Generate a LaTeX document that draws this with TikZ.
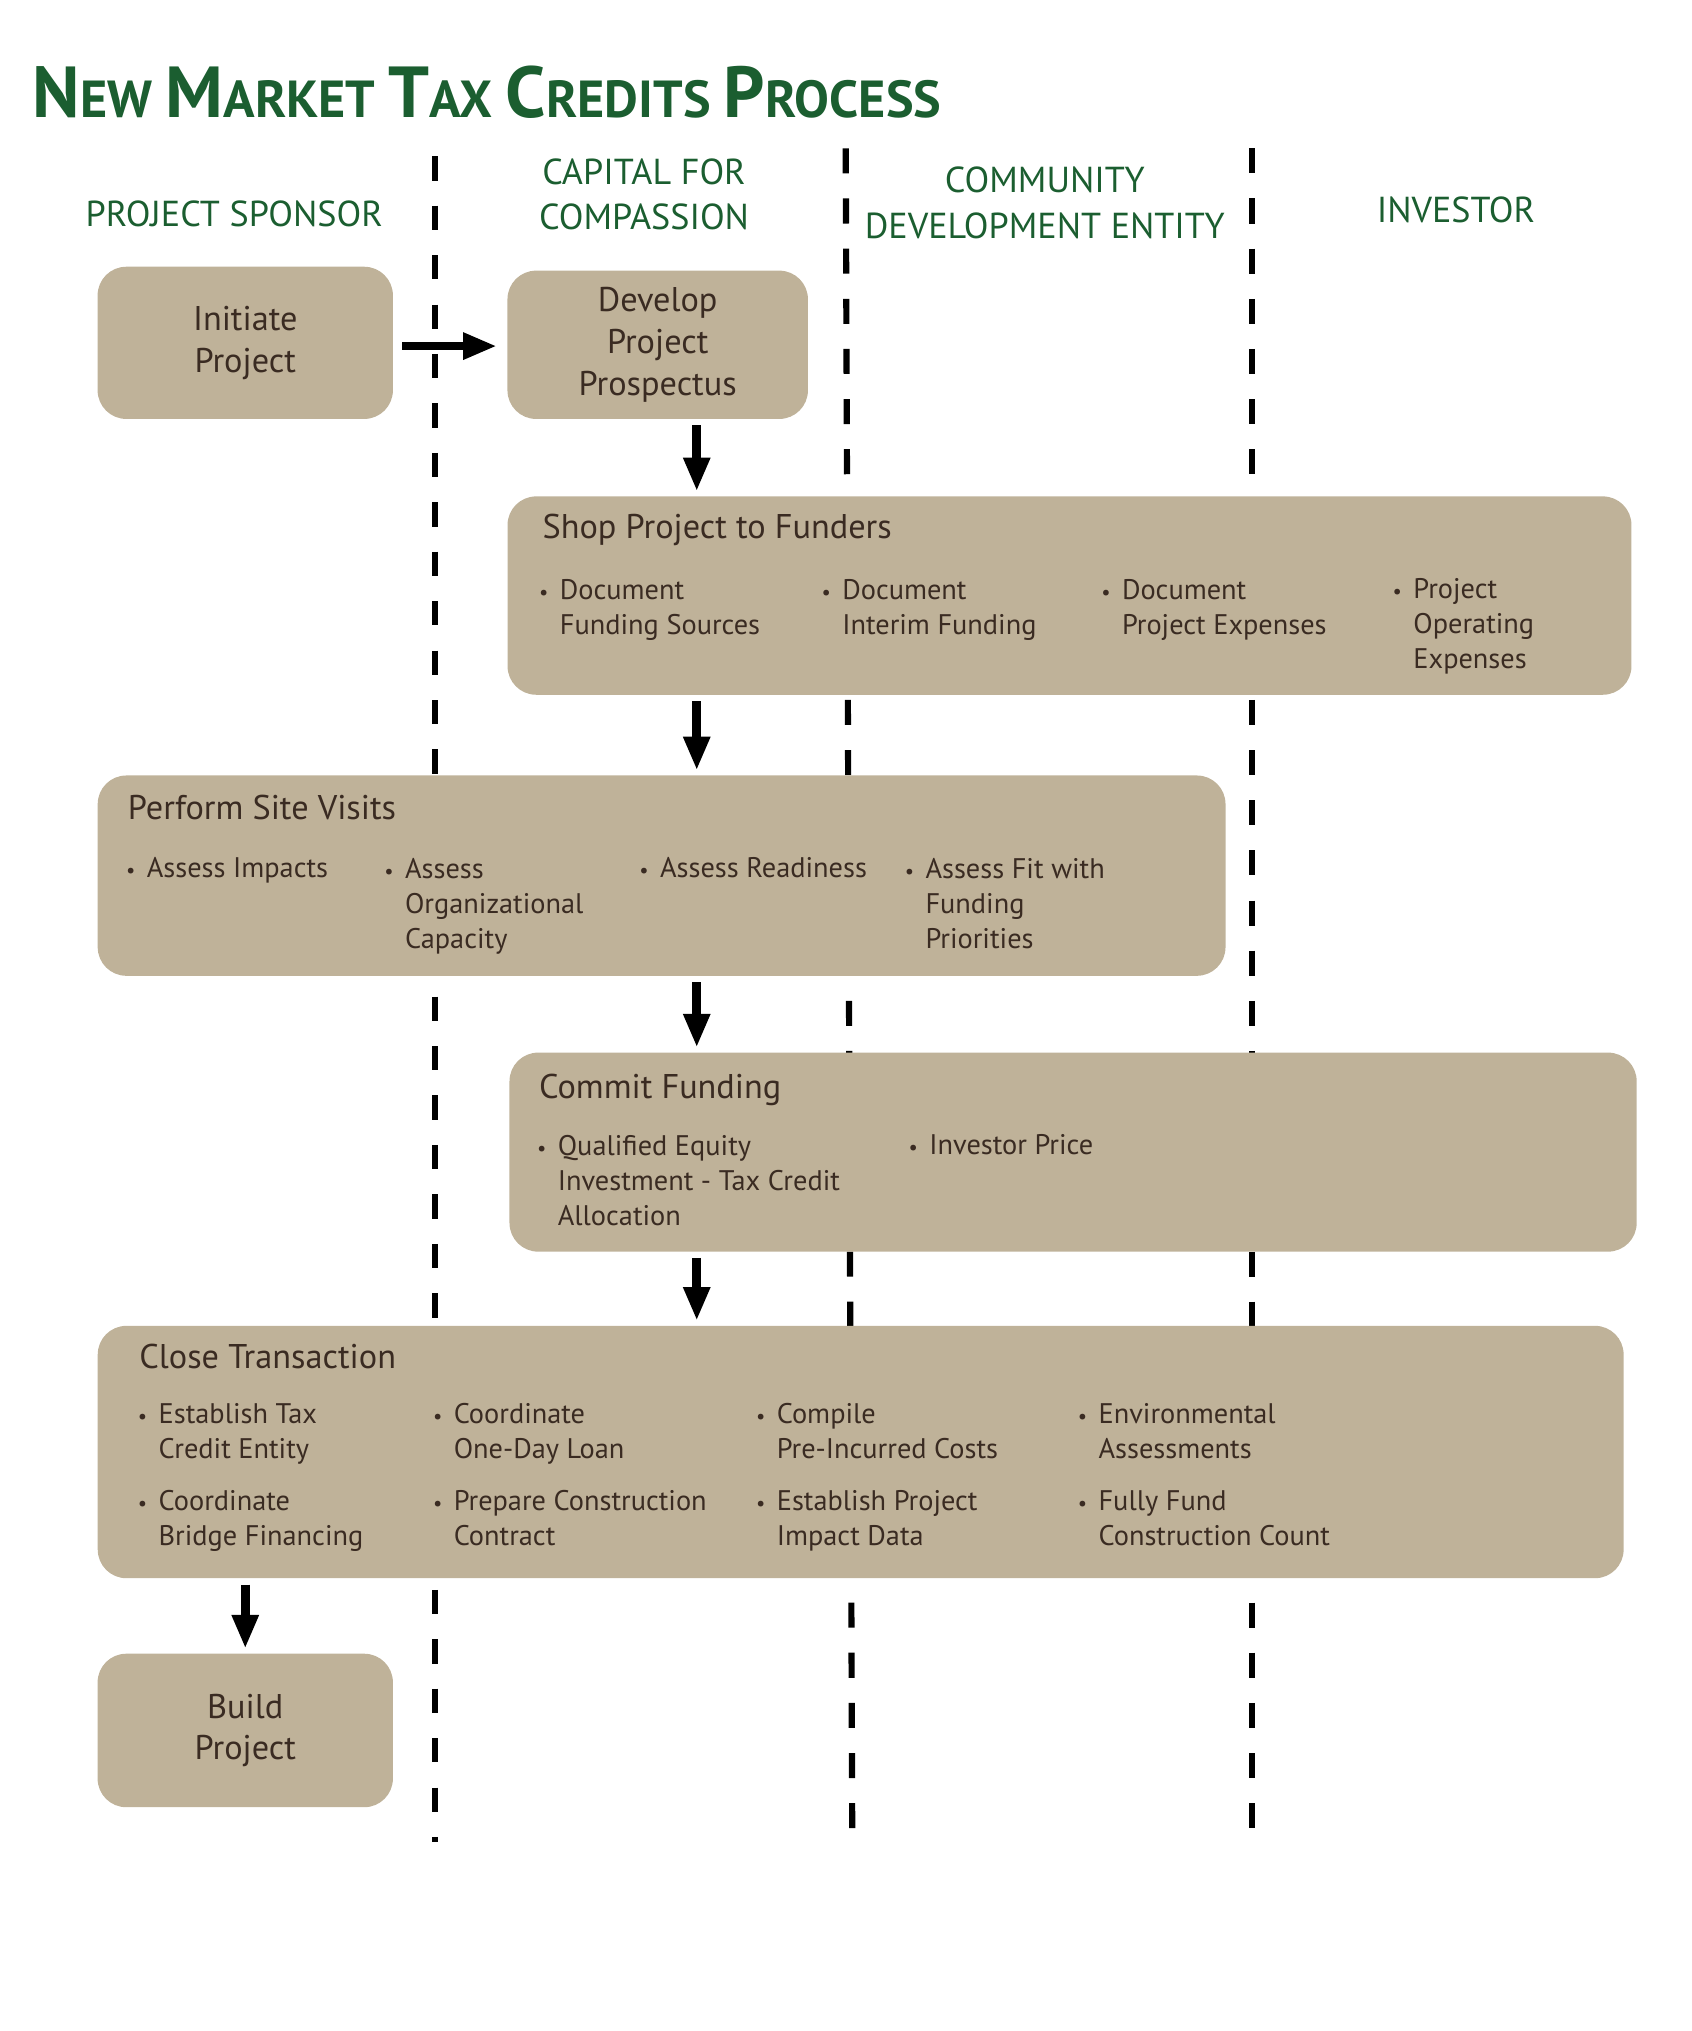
\documentclass[tikz,border=0pt]{standalone}
\usepackage{fontspec}
\setmainfont{PT Sans}
\usetikzlibrary{arrows.meta}
\definecolor{tan}{HTML}{BFB299}
\definecolor{ink}{HTML}{3A2B22}
\definecolor{pine}{HTML}{1B5E30}
\newcommand\bul{\makebox[0pt][r]{\fontsize{9}{9}\selectfont\textbullet\hspace{5pt}}}
\newcommand\capl[1]{{\fontsize{31.6}{31.6}\selectfont #1}}

\begin{document}
\begin{tikzpicture}[x=0.02cm,y=-0.02cm,
    box/.style={rectangle,rounded corners=0.44cm,fill=tan,inner sep=0pt,align=center,text=ink,font=\fontsize{15}{18.3}\selectfont},
    hd/.style={anchor=base west,inner sep=0pt,text=ink,font=\fontsize{15}{18.3}\selectfont},
    itm/.style={anchor=base west,inner sep=0pt,align=left,text=ink,font=\fontsize{12.4}{15.3}\selectfont},
    lanehd/.style={anchor=base,inner sep=0pt,align=center,text=pine,font=\fontsize{15.8}{19.8}\selectfont},
    lane/.style={line width=0.095cm,dash pattern=on 0.385cm off 0.386cm},
    flow/.style={line width=0.135cm,-{Triangle[length=0.52cm,width=0.385cm]},shorten <=0.09cm,shorten >=0.07cm}]
            \useasboundingbox (0,0) rectangle (1300,1561);
            \node (t) at (25,90.4)[anchor=base west,inner sep=0pt,text=pine,font=\bfseries\fontsize{22.8}{31.6}\selectfont]{\capl{N}EW \capl{M}ARKET \capl{T}AX \capl{C}REDITS \capl{P}ROCESS};
            \node (h1) at (180,174.3)[lanehd]{PROJECT SPONSOR};
            \node (h2) at (495,176.4)[lanehd]{CAPITAL FOR\\COMPASSION};
            \node (h3) at (803,183)[lanehd]{COMMUNITY\\DEVELOPMENT ENTITY};
            \node (h4) at (1119,170.9)[lanehd]{INVESTOR};
            \draw [lane,dash pattern=on 0.374cm off 0.386cm] (334.5,120.1) -- (334.5,1416);
            \draw [lane] (650,114) -- (655,1405);
            \draw [lane] (962,114) -- (962,1405);
            \node (n1) at (188.5,263.5)[box,minimum width=4.54cm,minimum height=2.34cm]{Initiate\\Project};
            \node (n2) at (505.5,265)[box,minimum width=4.62cm,minimum height=2.28cm]{Develop\\Project\\Prospectus};
            \node (n3) at (822,457.75)[box,minimum width=17.28cm,minimum height=3.05cm]{};
            \node (n4) at (508.5,673)[box,minimum width=17.34cm,minimum height=3.08cm]{};
            \node (n5) at (824.75,885.5)[box,minimum width=17.33cm,minimum height=3.06cm]{};
            \node (n6) at (661.5,1116)[box,minimum width=23.46cm,minimum height=3.88cm]{};
            \node (n7) at (188.5,1330)[box,minimum width=4.54cm,minimum height=2.36cm]{Build\\Project};
            \node (s0) at (416.7,414)[hd]{Shop Project to Funders};
            \node (s1) at (430,488)[itm]{\bul Document\\Funding Sources};
            \node (s2) at (647,488)[itm]{\bul Document\\Interim Funding};
            \node (s3) at (862,488)[itm]{\bul Document\\Project Expenses};
            \node (s4) at (1086,514)[itm]{\bul Project\\Operating\\Expenses};
            \node (v0) at (98,630)[hd]{Perform Site Visits};
            \node (v1) at (112.5,674.7)[itm]{\bul Assess Impacts};
            \node (v2) at (311,728.7)[itm]{\bul Assess\\Organizational\\Capacity};
            \node (v3) at (507,674.7)[itm]{\bul Assess Readiness};
            \node (v4) at (711,728.7)[itm]{\bul Assess Fit with\\Funding\\Priorities};
            \node (f0) at (414,844)[hd]{Commit Funding};
            \node (f1) at (428.4,941.7)[itm]{\bul Qualified Equity\\Investment - Tax Credit\\Allocation};
            \node (f2) at (714,887.7)[itm]{\bul Investor Price};
            \node (c0) at (106.7,1052)[hd]{Close Transaction};
            \node (c1) at (121.6,1120.7)[itm]{\bul Establish Tax\\Credit Entity};
            \node (c2) at (348.4,1120.7)[itm]{\bul Coordinate\\One-Day Loan};
            \node (c3) at (596.7,1120.7)[itm]{\bul Compile\\Pre-Incurred Costs};
            \node (c4) at (844,1120.7)[itm]{\bul Environmental\\Assessments};
            \node (c5) at (121.6,1188)[itm]{\bul Coordinate\\Bridge Financing};
            \node (c6) at (348.4,1188)[itm]{\bul Prepare Construction\\Contract};
            \node (c7) at (596.7,1188)[itm]{\bul Establish Project\\Impact Data};
            \node (c8) at (844,1188)[itm]{\bul Fully Fund\\Construction Count};
            \coordinate (sp) at (535.5,0);
            \draw [flow,shorten <=0.14cm,shorten >=0.155cm] ([yshift=-0.05cm]n1.east) -- ([yshift=-0.05cm]n1.east -| n2.west);
            \draw [flow] (n2.south -| sp) -- (n3.north -| sp);
            \draw [flow] (n3.south -| sp) -- (n4.north -| sp);
            \draw [flow] (n4.south -| sp) -- (n5.north -| sp);
            \draw [flow] (n5.south -| sp) -- (n6.north -| sp);
            \draw [flow] (n6.south -| n7.north) -- (n7.north);
        \end{tikzpicture}
\end{document}
